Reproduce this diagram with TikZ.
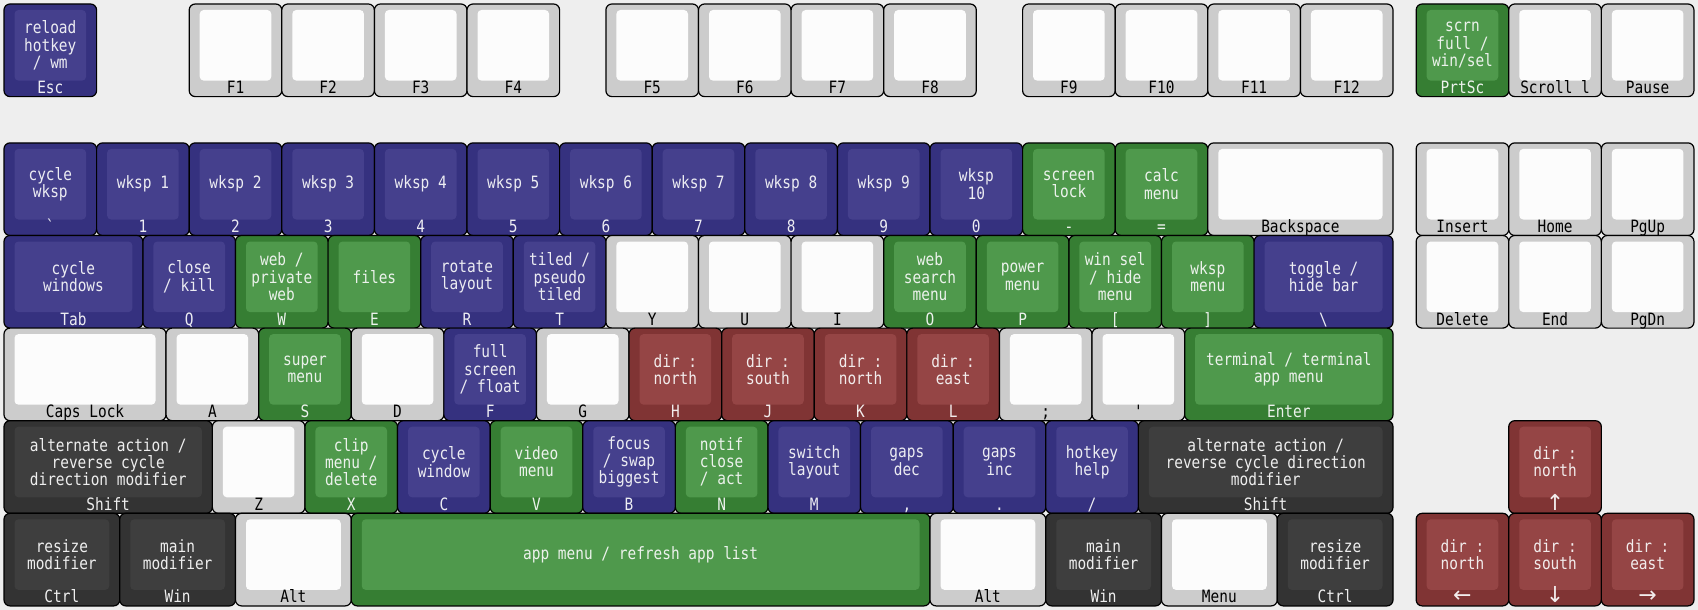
\documentclass[tikz,border=0pt]{standalone}
\usepackage{fontspec}
\newfontfamily\keyfont{DejaVu Sans Mono}[FakeStretch=0.85]
\newfontfamily\arrowfont{DejaVu Sans}
\newcommand\arr[1]{{\arrowfont\fontsize{22}{17.3}\selectfont #1}}
\definecolor{bg}{HTML}{EEEEEE}
\definecolor{blO}{HTML}{35317F}
\definecolor{blI}{HTML}{45408D}
\definecolor{blT}{HTML}{ECECF2}
\definecolor{grO}{HTML}{367E33}
\definecolor{grI}{HTML}{4F994C}
\definecolor{grT}{HTML}{ECF2EC}
\definecolor{rdO}{HTML}{803434}
\definecolor{rdI}{HTML}{954545}
\definecolor{rdT}{HTML}{F2ECEC}
\definecolor{dkO}{HTML}{333333}
\definecolor{dkI}{HTML}{3E3E3E}
\definecolor{dkT}{HTML}{EEEEEE}
\definecolor{gyO}{HTML}{CCCCCC}
\definecolor{gyI}{HTML}{FCFCFC}
\definecolor{gyT}{HTML}{000000}
\tikzset{
  keyouter/.style={draw=black, line width=1.2pt, rounded corners=6pt, inner sep=0pt, outer sep=0pt},
  keyinner/.style={rounded corners=4pt, inner sep=0pt, outer sep=0pt},
  keylabel/.style={font=\keyfont\fontsize{17}{17.3}\selectfont, align=center, inner sep=0pt},
}
\newcommand\kk[7]{%
  \pgfmathsetmacro\kxa{4+#2*92.6}%
  \pgfmathsetmacro\kw{#4*92.6}%
  \pgfmathsetmacro\kya{4+#3*92.6}%
  \pgfmathsetmacro\kcx{\kxa+\kw/2}%
  \pgfmathsetmacro\kcy{\kya+46.3}%
  \pgfmathsetmacro\kiy{\kya+6+35.3}%
  \pgfmathsetmacro\kby{\kya+92.6-3}%
  \node[keyouter, fill=#5O, minimum width=\kw pt, minimum height=92.6pt] (#1) at (\kcx,\kcy) {};
  \node[keyinner, fill=#5I, minimum width=\kw pt - 21pt, minimum height=70.6pt] (#1in) at (\kcx,\kiy) {};
  \node[keylabel, text=#5T] (#1top) at (#1in.center) {#6};
  \node[keylabel, text=#5T, anchor=base] (#1bot) at (\kcx,\kby) {#7};
}
\begin{document}
\begin{tikzpicture}[x=1pt,y=-1pt]
\useasboundingbox (0,0) rectangle (1698,610);
\fill[bg] (0,0) rectangle (1698,610);
% row 0
\kk{esc}{0}{0}{1}{bl}{reload\\hotkey\\/ wm}{Esc}
\kk{f1}{2}{0}{1}{gy}{}{F1}
\kk{f2}{3}{0}{1}{gy}{}{F2}
\kk{f3}{4}{0}{1}{gy}{}{F3}
\kk{f4}{5}{0}{1}{gy}{}{F4}
\kk{f5}{6.5}{0}{1}{gy}{}{F5}
\kk{f6}{7.5}{0}{1}{gy}{}{F6}
\kk{f7}{8.5}{0}{1}{gy}{}{F7}
\kk{f8}{9.5}{0}{1}{gy}{}{F8}
\kk{f9}{11}{0}{1}{gy}{}{F9}
\kk{f10}{12}{0}{1}{gy}{}{F10}
\kk{f11}{13}{0}{1}{gy}{}{F11}
\kk{f12}{14}{0}{1}{gy}{}{F12}
\kk{prtsc}{15.25}{0}{1}{gr}{scrn\\full /\\win/sel}{PrtSc}
\kk{scroll}{16.25}{0}{1}{gy}{}{Scroll l}
\kk{pause}{17.25}{0}{1}{gy}{}{Pause}
% row 1
\kk{grave}{0}{1.5}{1}{bl}{cycle\\wksp}{\symbol{96}}
\kk{k1}{1}{1.5}{1}{bl}{wksp 1}{1}
\kk{k2}{2}{1.5}{1}{bl}{wksp 2}{2}
\kk{k3}{3}{1.5}{1}{bl}{wksp 3}{3}
\kk{k4}{4}{1.5}{1}{bl}{wksp 4}{4}
\kk{k5}{5}{1.5}{1}{bl}{wksp 5}{5}
\kk{k6}{6}{1.5}{1}{bl}{wksp 6}{6}
\kk{k7}{7}{1.5}{1}{bl}{wksp 7}{7}
\kk{k8}{8}{1.5}{1}{bl}{wksp 8}{8}
\kk{k9}{9}{1.5}{1}{bl}{wksp 9}{9}
\kk{k0}{10}{1.5}{1}{bl}{wksp\\10}{0}
\kk{minus}{11}{1.5}{1}{gr}{screen\\lock}{-}
\kk{equal}{12}{1.5}{1}{gr}{calc\\menu}{=}
\kk{bksp}{13}{1.5}{2}{gy}{}{Backspace}
\kk{ins}{15.25}{1.5}{1}{gy}{}{Insert}
\kk{home}{16.25}{1.5}{1}{gy}{}{Home}
\kk{pgup}{17.25}{1.5}{1}{gy}{}{PgUp}
% row 2
\kk{tab}{0}{2.5}{1.5}{bl}{cycle\\windows}{Tab}
\kk{q}{1.5}{2.5}{1}{bl}{close\\/ kill}{Q}
\kk{w}{2.5}{2.5}{1}{gr}{web /\\private\\web}{W}
\kk{e}{3.5}{2.5}{1}{gr}{files}{E}
\kk{r}{4.5}{2.5}{1}{bl}{rotate\\layout}{R}
\kk{t}{5.5}{2.5}{1}{bl}{tiled /\\pseudo\\tiled}{T}
\kk{y}{6.5}{2.5}{1}{gy}{}{Y}
\kk{u}{7.5}{2.5}{1}{gy}{}{U}
\kk{i}{8.5}{2.5}{1}{gy}{}{I}
\kk{o}{9.5}{2.5}{1}{gr}{web\\search\\menu}{O}
\kk{p}{10.5}{2.5}{1}{gr}{power\\menu}{P}
\kk{lbr}{11.5}{2.5}{1}{gr}{win sel\\/ hide\\menu}{[}
\kk{rbr}{12.5}{2.5}{1}{gr}{wksp\\menu}{]}
\kk{bsl}{13.5}{2.5}{1.5}{bl}{toggle /\\hide bar}{\textbackslash}
\kk{del}{15.25}{2.5}{1}{gy}{}{Delete}
\kk{end}{16.25}{2.5}{1}{gy}{}{End}
\kk{pgdn}{17.25}{2.5}{1}{gy}{}{PgDn}
% row 3
\kk{caps}{0}{3.5}{1.75}{gy}{}{Caps Lock}
\kk{a}{1.75}{3.5}{1}{gy}{}{A}
\kk{s}{2.75}{3.5}{1}{gr}{super\\menu}{S}
\kk{d}{3.75}{3.5}{1}{gy}{}{D}
\kk{f}{4.75}{3.5}{1}{bl}{full\\screen\\/ float}{F}
\kk{g}{5.75}{3.5}{1}{gy}{}{G}
\kk{h}{6.75}{3.5}{1}{rd}{dir :\\north}{H}
\kk{j}{7.75}{3.5}{1}{rd}{dir :\\south}{J}
\kk{k}{8.75}{3.5}{1}{rd}{dir :\\north}{K}
\kk{l}{9.75}{3.5}{1}{rd}{dir :\\east}{L}
\kk{semi}{10.75}{3.5}{1}{gy}{}{;}
\kk{quote}{11.75}{3.5}{1}{gy}{}{\symbol{39}}
\kk{enter}{12.75}{3.5}{2.25}{gr}{terminal / terminal\\app menu}{Enter}
% row 4
\kk{lshift}{0}{4.5}{2.25}{dk}{alternate action /\\reverse cycle\\direction modifier}{Shift}
\kk{z}{2.25}{4.5}{1}{gy}{}{Z}
\kk{x}{3.25}{4.5}{1}{gr}{clip\\menu /\\delete}{X}
\kk{c}{4.25}{4.5}{1}{bl}{cycle\\window}{C}
\kk{v}{5.25}{4.5}{1}{gr}{video\\menu}{V}
\kk{b}{6.25}{4.5}{1}{bl}{focus\\/ swap\\biggest}{B}
\kk{n}{7.25}{4.5}{1}{gr}{notif\\close\\/ act}{N}
\kk{m}{8.25}{4.5}{1}{bl}{switch\\layout}{M}
\kk{comma}{9.25}{4.5}{1}{bl}{gaps\\dec}{,}
\kk{period}{10.25}{4.5}{1}{bl}{gaps\\inc}{.}
\kk{slash}{11.25}{4.5}{1}{bl}{hotkey\\help}{/}
\kk{rshift}{12.25}{4.5}{2.75}{dk}{alternate action /\\reverse cycle direction\\modifier}{Shift}
\kk{up}{16.25}{4.5}{1}{rd}{dir :\\north}{\arr{↑}}
% row 5
\kk{lctrl}{0}{5.5}{1.25}{dk}{resize\\modifier}{Ctrl}
\kk{lwin}{1.25}{5.5}{1.25}{dk}{main\\modifier}{Win}
\kk{lalt}{2.5}{5.5}{1.25}{gy}{}{Alt}
\kk{space}{3.75}{5.5}{6.25}{gr}{app menu / refresh app list}{}
\kk{ralt}{10}{5.5}{1.25}{gy}{}{Alt}
\kk{rwin}{11.25}{5.5}{1.25}{dk}{main\\modifier}{Win}
\kk{menu}{12.5}{5.5}{1.25}{gy}{}{Menu}
\kk{rctrl}{13.75}{5.5}{1.25}{dk}{resize\\modifier}{Ctrl}
\kk{left}{15.25}{5.5}{1}{rd}{dir :\\north}{\arr{←}}
\kk{down}{16.25}{5.5}{1}{rd}{dir :\\south}{\arr{↓}}
\kk{right}{17.25}{5.5}{1}{rd}{dir :\\east}{\arr{→}}
\end{tikzpicture}
\end{document}
